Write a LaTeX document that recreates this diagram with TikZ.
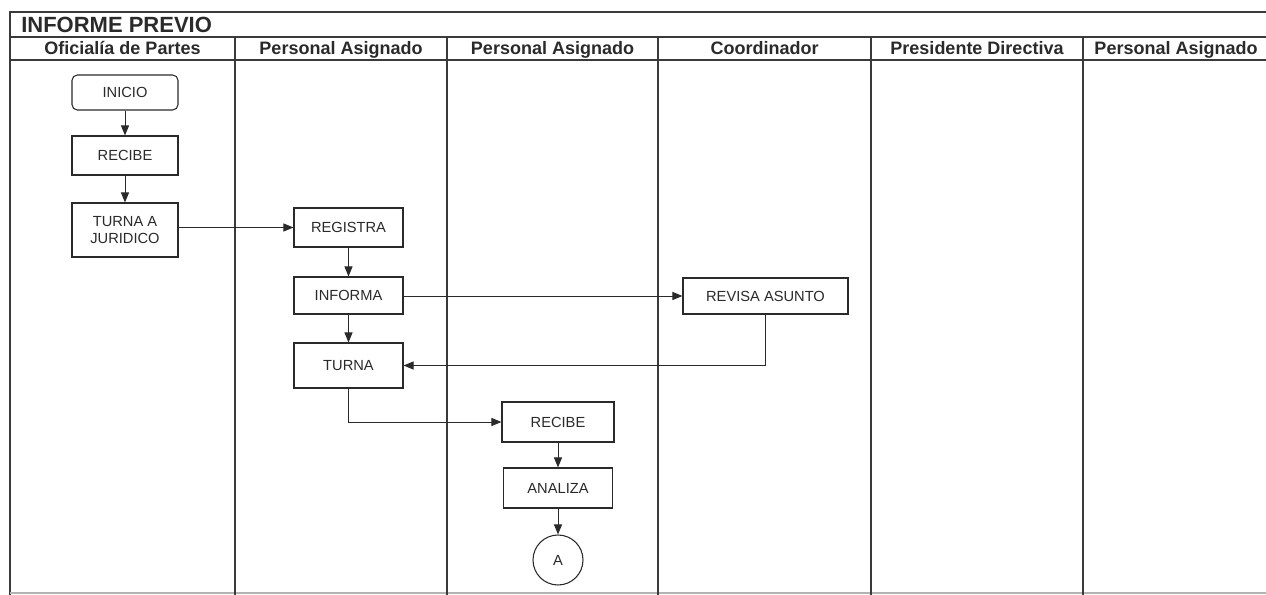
\documentclass[tikz,border=0pt]{standalone}
\usepackage{fontspec}
\setmainfont{Liberation Sans}
\usetikzlibrary{arrows.meta,positioning}
\definecolor{ink}{HTML}{2A2A2A}
\definecolor{frame}{HTML}{3A3A3A}
\tikzset{
  laneline/.style={draw=frame, line width=1.1pt},
  stepbox/.style={draw=ink, line width=0.8pt, fill=white, text=ink, align=center,
     inner sep=1pt, font=\fontsize{11}{13}\selectfont},
  conn/.style={draw=ink, line width=0.75pt, -{Triangle[length=7.5pt,width=6pt]}},
  headtxt/.style={anchor=base, text=ink, font=\bfseries\fontsize{13.5}{15}\selectfont, inner sep=0pt},
}
\begin{document}
\begin{tikzpicture}[x=0.75pt,y=-0.75pt]
\useasboundingbox (0,0) rectangle (1266,595);
% frame
\draw[laneline] (1266,12) -- (10,12) -- (10,595);
\draw[laneline] (10,37) -- (1266,37);
\draw[laneline] (10,60) -- (1266,60);
\draw[draw=black!30, line width=0.8pt] (10,593) -- (1266,593);
\foreach \x in {235,447,658,871,1083} \draw[laneline] (\x,37) -- (\x,595);
% titles
\node[anchor=base west, text=ink, font=\bfseries\fontsize{16.5}{18}\selectfont, inner sep=0pt] (title) at (21,33) {INFORME PREVIO};
\node[headtxt] (h1) at (122.5,55) {Oficialía de Partes};
\node[headtxt] (h2) at (341,55) {Personal Asignado};
\node[headtxt] (h3) at (552.5,55) {Personal Asignado};
\node[headtxt] (h4) at (764.5,55) {Coordinador};
\node[headtxt] (h5) at (977,55) {Presidente Directiva};
\node[headtxt] (h6) at (1176,55) {Personal Asignado};
% nodes
\node[stepbox, rounded corners=4pt, minimum width=79.5pt, minimum height=26.25pt] (inicio) at (125,92.5) {INICIO};
\node[stepbox, minimum width=79.5pt, minimum height=29.25pt] (recibe1) at (125,155.5) {RECIBE};
\node[stepbox, minimum width=79.5pt, minimum height=40.5pt] (turnaj) at (125,230) {TURNA A\\JURIDICO};
\node[stepbox, minimum width=81.75pt, minimum height=29.25pt] (registra) at (348.5,227.5) {REGISTRA};
\node[stepbox, minimum width=81.75pt, minimum height=27.75pt] (informa) at (348.5,295.5) {INFORMA};
\node[stepbox, minimum width=81.75pt, minimum height=33.75pt] (turna) at (348.5,365.5) {TURNA};
\node[stepbox, minimum width=123.75pt, minimum height=27pt] (revisa) at (765.5,296) {REVISA ASUNTO};
\node[stepbox, minimum width=84pt, minimum height=30pt] (recibe2) at (558,422) {RECIBE};
\node[stepbox, minimum width=82pt, minimum height=30pt] (analiza) at (558,488) {ANALIZA};
\node[stepbox, circle, minimum size=37.5pt] (conA) at (558,560) {A};
% connectors
\draw[conn] (inicio) -- (recibe1);
\draw[conn] (recibe1) -- (turnaj);
\draw[conn] (turnaj.east |- registra) -- (registra.west);
\draw[conn] (registra) -- (informa);
\draw[conn] (informa.east |- revisa) -- (revisa.west);
\draw[conn] (informa) -- (turna);
\draw[conn] (revisa.south) |- (turna.east);
\draw[conn] (turna.south) |- (recibe2.west);
\draw[conn] (recibe2) -- (analiza);
\draw[conn] (analiza) -- (conA);
\end{tikzpicture}
\end{document}
